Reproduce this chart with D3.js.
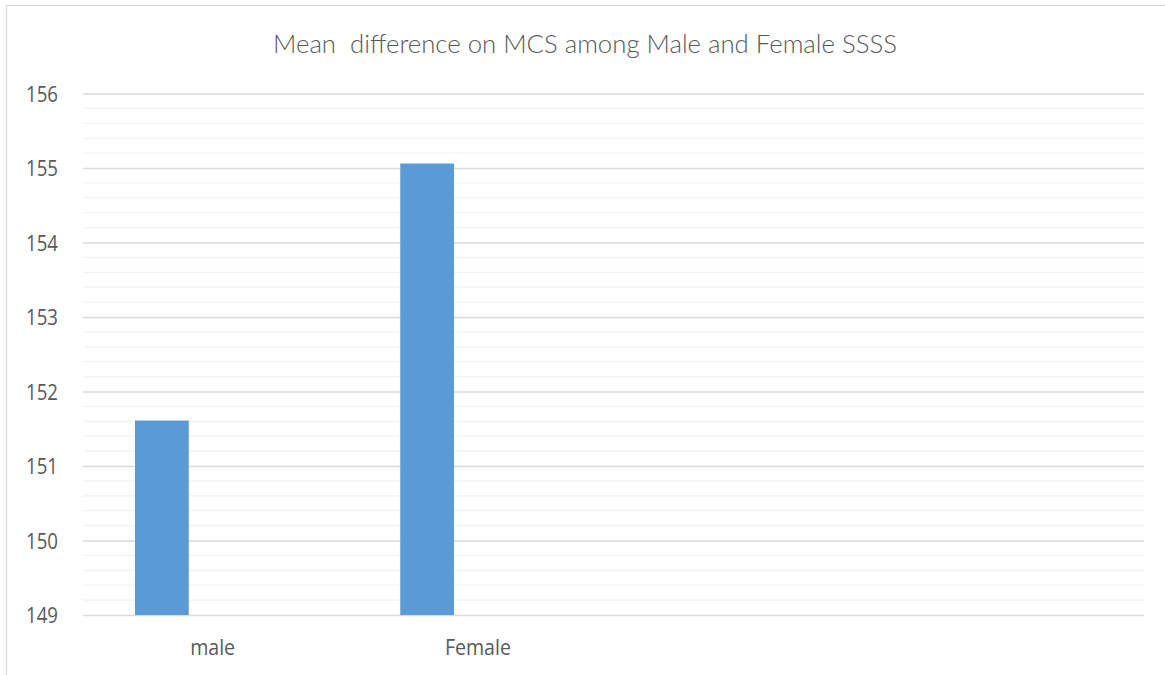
<!DOCTYPE html>
<html>
<head>
<meta charset="utf-8">
<script src="https://cdn.jsdelivr.net/npm/d3@7"></script>
<style>
  html, body { margin: 0; padding: 0; background: #fff; }
  svg { display: block; }
</style>
</head>
<body>
<svg id="chart" width="1165" height="675"></svg>
<script>
// Chart data
const categories = ["male", "Female", "", ""];
const seriesNames = ["Series1", "Series2", "Series3"];
const meanScores = [151.61, 155.06, null, null];   // Series1 only; others empty
const yTicks = [149, 150, 151, 152, 153, 154, 155, 156];
const titleText = "Mean  difference on MCS among Male and Female SSSS";

const svg = d3.select("#chart");
const W = 1165, H = 675;
const plot = { left: 83, right: 1144, top: 93.5, bottom: 615 };
const textColor = "#595959";
const labelFont = "'Open Sans', 'Noto Sans', sans-serif";
const titleFont = "Lato, 'Open Sans', sans-serif";

// Chart area border
svg.append("rect")
  .attr("x", 6.5).attr("y", 5.5)
  .attr("width", W + 20).attr("height", H + 20)
  .attr("fill", "#fff")
  .attr("stroke", "#d9d9d9").attr("stroke-width", 1.3);

// Scales
const y = d3.scaleLinear().domain([149, 156]).range([plot.bottom, plot.top]);
const x0 = d3.scaleBand().domain(d3.range(categories.length)).range([plot.left, plot.right]);
const groupPad = 52;
const x1 = d3.scaleBand().domain(seriesNames)
  .range([groupPad, x0.bandwidth() - groupPad]);

// Minor gridlines every 0.2
const minor = d3.range(149, 156.001, 0.2).filter(v => Math.abs(v - Math.round(v)) > 1e-6);
svg.append("g").selectAll("line").data(minor).join("line")
  .attr("x1", plot.left).attr("x2", plot.right)
  .attr("y1", d => y(d)).attr("y2", d => y(d))
  .attr("stroke", "#f2f2f2").attr("stroke-width", 1.3);

// Major gridlines and tick labels via axis
const yAxis = d3.axisLeft(y).tickValues(yTicks).tickSize(-(plot.right - plot.left)).tickFormat(d3.format("d"));
const gy = svg.append("g").attr("transform", `translate(${plot.left},0)`).call(yAxis);
gy.select(".domain").remove();
gy.selectAll(".tick line").attr("stroke", "#d9d9d9").attr("stroke-width", 1.3);
gy.selectAll(".tick text")
  .attr("x", -25)
  .attr("dy", "0.36em")
  .attr("fill", textColor)
  .style("font-family", labelFont)
  .style("font-size", "21px")
  .attr("textLength", 32)
  .attr("lengthAdjust", "spacingAndGlyphs");

// Bars
svg.append("g").selectAll("rect")
  .data(categories.map((c, i) => ({ i, v: meanScores[i] })).filter(d => d.v != null))
  .join("rect")
  .attr("x", d => x0(d.i) + x1("Series1"))
  .attr("width", x1.bandwidth())
  .attr("y", d => y(d.v))
  .attr("height", d => y(149) - y(d.v))
  .attr("fill", "#5b9bd5");

// Category labels
const labelWidths = { male: 45, Female: 66 };
svg.append("g").selectAll("text")
  .data(categories.map((c, i) => ({ c, i })).filter(d => d.c))
  .join("text")
  .attr("x", d => x0(d.i) + x0.bandwidth() / 2 - 3)
  .attr("y", 655)
  .attr("text-anchor", "middle")
  .attr("fill", textColor)
  .style("font-family", labelFont)
  .style("font-size", "21px")
  .attr("textLength", d => labelWidths[d.c])
  .attr("lengthAdjust", "spacingAndGlyphs")
  .text(d => d.c);

// Title
svg.append("text")
  .attr("x", 585).attr("y", 53)
  .attr("text-anchor", "middle")
  .attr("fill", textColor)
  .style("font-family", titleFont)
  .style("font-weight", 300)
  .style("font-size", "25px")
  .attr("textLength", 624)
  .attr("lengthAdjust", "spacingAndGlyphs")
  .attr("xml:space", "preserve")
  .text(titleText);
</script>
</body>
</html>
